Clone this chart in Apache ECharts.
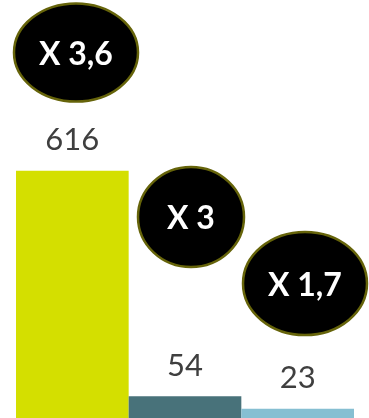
<!DOCTYPE html>
<html><head><meta charset="utf-8">
<script src="https://cdn.jsdelivr.net/npm/echarts@6/dist/echarts.min.js"></script>
<style>html,body{margin:0;padding:0;background:#fff}#c{width:369px;height:418px}</style>
</head><body><div id="c"></div>
<script>
const categories = ['A', 'B', 'C'];
const values = [616, 54, 23];
const barColors = ['#d4df00', '#48727a', '#86bfd2'];
const ratioLabels = ['X 3,6', 'X 3', 'X 1,7'];

const chart = echarts.init(document.getElementById('c'));
const ellipses = [
  {cx: 76, cy: 52.5, rx: 62, ry: 49},
  {cx: 191, cy: 217, rx: 53, ry: 50},
  {cx: 305, cy: 283.5, rx: 62, ry: 51.5}
];
chart.setOption({
  animation: false,
  grid: {left: 16, right: 15, top: 16.6, bottom: -3},
  xAxis: {type: 'category', data: categories, show: false},
  yAxis: {type: 'value', min: 0, max: 1000, show: false},
  series: [{
    type: 'bar',
    barCategoryGap: 0,
    barWidth: '100%',
    data: values.map((v, i) => ({value: v, itemStyle: {color: barColors[i]}})),
    label: {show: true, position: 'top', distance: 15, color: '#3f3f3f', fontFamily: 'Lato', fontSize: 31}
  }],
  graphic: ellipses.map((e, i) => ({
    type: 'group',
    children: [
      {type: 'ellipse', shape: {cx: e.cx, cy: e.cy, rx: e.rx, ry: e.ry}, style: {fill: '#000', stroke: '#66640a', lineWidth: 2.5}},
      {type: 'text', x: e.cx, y: e.cy + 2, style: {text: ratioLabels[i], fill: '#fff', font: 'bold 32px Lato', align: 'center', verticalAlign: 'middle'}}
    ]
  }))
});
</script></body></html>
